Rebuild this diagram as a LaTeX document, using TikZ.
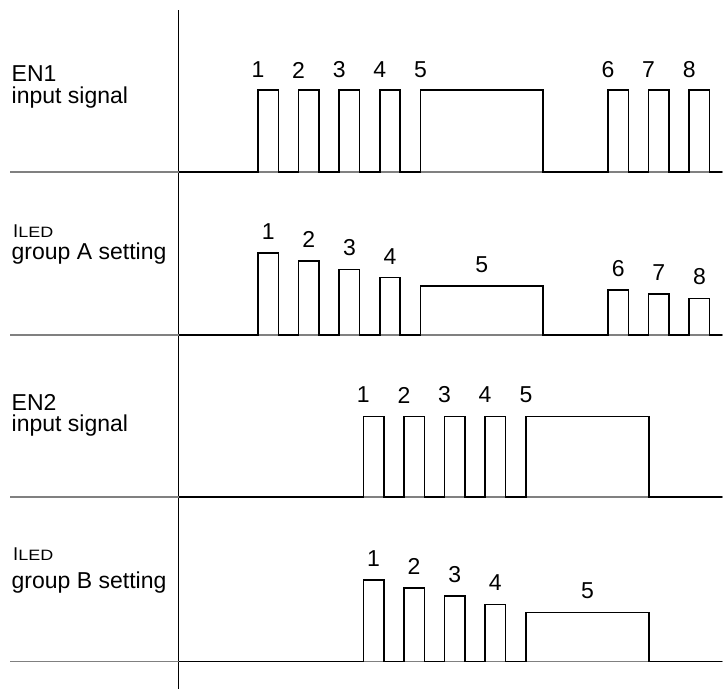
\documentclass[tikz,border=0pt]{standalone}
\usepackage{fontspec}
\setmainfont{Liberation Sans}
\newcommand{\iledlabel}{{\fontsize{18.5}{19}\selectfont I}\scalebox{1.2}[1]{\fontsize{15}{15}\selectfont LED}}

\begin{document}
\begin{tikzpicture}[
  x=1pt, y=-1pt,
  sig/.style={line width=1.5pt, line join=miter},
  rail/.style={gray, line width=1.4pt},
  lbl/.style={font=\fontsize{23}{23}\selectfont, anchor=base west, inner sep=0pt},
  num/.style={font=\fontsize{23}{23}\selectfont, inner sep=0pt},
]
\useasboundingbox (0,0) rectangle (723,689);

% Axis and rails
\draw[line width=1.3pt] (178.7,10) -- (178.7,689);
\foreach \y in {172,335,497,661.7} {
  \draw[rail] (10,\y) -- (723,\y);
}

% Row labels
\node[lbl] (en1) at (11.5,81.7) {EN1};
\node[lbl] (en1txt) at (11.5,103.3) {input signal};
\node[lbl] (ileda) at (13,237.5) {\iledlabel};
\node[lbl] (ledatxt) at (11.5,259.5) {group A setting};
\node[lbl] (en2) at (11.5,410) {EN2};
\node[lbl] (en2txt) at (11.5,431.7) {input signal};
\node[lbl] (iledb) at (13,560) {\iledlabel};
\node[lbl] (ledbtxt) at (11.5,588.5) {group B setting};

% EN1 input signal
\draw[sig] (178.7,172) foreach \a/\b in {258/278.3,298.6/318.9,339.2/359.5,379.8/400.1,420.4/543,608/628.3,648.6/668.9,689.2/709.5} {
  -- (\a,172) |- (\b,90) -- (\b,172)
} -- (722,172);
\foreach \a/\k in {258/1,298.6/2,339.2/3,379.8/4,420.4/5,608/6,648.6/7,689.2/8} {
  \node[num] (ena\k) at (\a,70) {\k};
}

% ILED group A
\draw[sig] (178.7,335) foreach \a/\b/\t in {258/278.3/253,298.6/318.9/261.2,339.2/359.5/269.4,379.8/400.1/277.6,420.4/543/285.8,608/628.3/290,648.6/668.9/294.2,689.2/709.5/298.4} {
  -- (\a,335) |- (\b,\t) -- (\b,335)
} -- (722,335);
\foreach \c/\t/\k in {268.2/253/1,308.8/261.2/2,349.4/269.4/3,390/277.6/4,481.7/285.8/5,618.2/290/6,658.8/294.2/7,699.4/298.4/8} {
  \node[num] (lda\k) at (\c,\t-21.5) {\k};
}

% EN2 input signal
\draw[sig] (178.7,497) foreach \a/\b in {363.3/383.8,403.9/424.4,444.5/465,485.1/505.6,525.9/649} {
  -- (\a,497) |- (\b,416.7) -- (\b,497)
} -- (722,497);
\foreach \a/\k in {363.3/1,403.9/2,444.5/3,485.1/4,525.9/5} {
  \node[num] (enb\k) at (\a,395) {\k};
}

% ILED group B
\draw[sig] (178.7,661.7) foreach \a/\b/\t in {363.3/383.8/580,403.9/424.4/588,444.5/465/596.2,485.1/505.6/604.3,525.9/649/612.3} {
  -- (\a,661.7) |- (\b,\t) -- (\b,661.7)
} -- (722,661.7);
\foreach \c/\t/\k in {373.5/580/1,414.1/588/2,454.7/596.2/3,495.3/604.3/4,587.5/612.3/5} {
  \node[num] (ldb\k) at (\c,\t-21.5) {\k};
}
\end{tikzpicture}
\end{document}
